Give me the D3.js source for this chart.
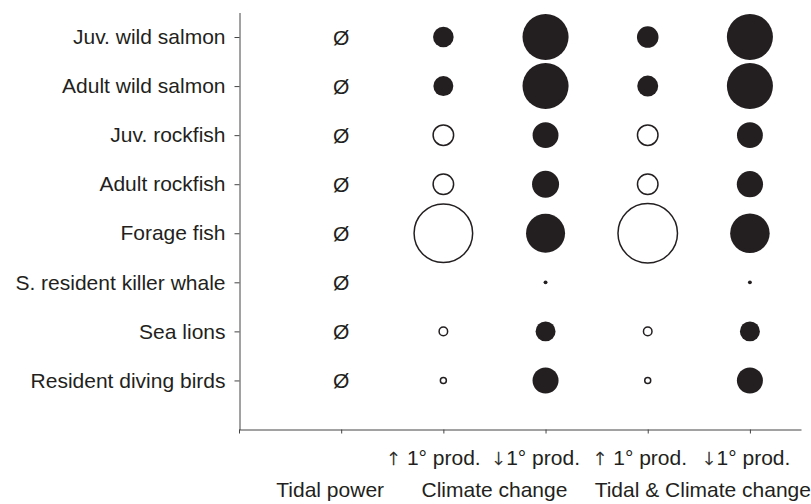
<!DOCTYPE html>
<html>
<head>
<meta charset="utf-8">
<script src="https://cdn.jsdelivr.net/npm/d3@7"></script>
<style>
  body { margin: 0; background: #fff; }
  svg { font-family: "Liberation Sans", Arial, sans-serif; }
</style>
</head>
<body>
<div id="chart"></div>
<script>
// rows, top to bottom
const species = [
  'Juv. wild salmon',
  'Adult wild salmon',
  'Juv. rockfish',
  'Adult rockfish',
  'Forage fish',
  'S. resident killer whale',
  'Sea lions',
  'Resident diving birds'
]

// % change in biomass; negative = decrease (filled), positive = increase (open)
// tidal power alone: no change for any group (Ø)
const tidalPower = [null, null, null, null, null, null, null, null]
const climateUp = [-11.4, -10.7, 13, 13, 97, 0, 2.7, 1.5]
const climateDown = [-57, -57, -18, -19.6, -41, -0.4, -10.7, -18.2]
const tidalClimateUp = [-12.5, -11.8, 13, 13, 100, 0, 2.7, 1.5]
const tidalClimateDown = [-57, -57, -18, -18.5, -42, -0.4, -10.7, -18.2]

const series = [tidalPower, climateUp, climateDown, tidalClimateUp, tidalClimateDown]
// arrow + text under each scenario column
const subArrows = ['', '\u2191 ', '\u2193', '\u2191 ', '\u2193']
const subLabels = ['', '1\u00b0 prod.', '1\u00b0 prod.', '1\u00b0 prod.', '1\u00b0 prod.']
const groupLabels = ['Tidal power', 'Climate change', 'Tidal & Climate change']

const width = 811, height = 504
const ink = '#231f20'

const svg = d3.select('#chart').append('svg')
  .attr('width', width)
  .attr('height', height)

const x = d3.scaleLinear()
  .domain([0, 5.5])
  .range([239, 801])

const y = d3.scaleLinear()
  .domain([-0.5, 8])
  .range([12.5, 429.5])

const r = d3.scaleSqrt()
  .domain([0, 100])
  .range([0, 30.5])

// axes
const yAxis = d3.axisLeft(y)
  .tickValues(d3.range(species.length))
  .tickFormat(i => species[i])
  .tickSize(5)
  .tickSizeOuter(0)
  .tickPadding(9)

const xAxis = d3.axisBottom(x)
  .tickValues(d3.range(6))
  .tickFormat('')
  .tickSize(4)
  .tickSizeOuter(0)

const y_axis_g = svg.append('g')
  .attr('transform', 'translate(239.5,0)')
  .call(yAxis)

y_axis_g.selectAll('text')
  .attr('font-size', 21)
  .attr('font-family', '"Liberation Sans", Arial, sans-serif')
  .attr('fill', ink)

svg.append('g')
  .attr('transform', 'translate(0,429.5)')
  .call(xAxis)

svg.selectAll('.domain, .tick line')
  .attr('stroke', '#444')

// flatten cells
const cells = []
series.forEach((vals, col) => {
  vals.forEach((v, row) => cells.push({ col: col + 1, row, v }))
})

// Ø for no change
svg.selectAll('.nochange')
  .data(cells.filter(d => d.v === null))
  .join('text')
  .attr('class', 'nochange')
  .attr('x', d => x(d.col))
  .attr('y', d => y(d.row))
  .attr('dy', '0.36em')
  .attr('text-anchor', 'middle')
  .attr('font-size', 21)
  .attr('fill', ink)
  .text('\u00d8')

// bubbles
svg.selectAll('.bubble')
  .data(cells.filter(d => d.v !== null && d.v !== 0))
  .join('circle')
  .attr('class', 'bubble')
  .attr('cx', d => x(d.col))
  .attr('cy', d => y(d.row))
  .attr('r', d => d.v > 0 ? r(d.v) - 0.75 : r(-d.v))
  .attr('fill', d => d.v < 0 ? ink : '#fff')
  .attr('stroke', d => d.v < 0 ? 'none' : ink)
  .attr('stroke-width', 1.5)

// bottom category labels
const subOffset = [0, -10, -10, -8, -4]
const sub = svg.selectAll('.sub')
  .data(subLabels.map((t, i) => ({ t, a: subArrows[i], i })).filter(d => d.t))
  .join('text')
  .attr('class', 'sub')
  .attr('x', d => x(d.i + 1) + subOffset[d.i])
  .attr('y', 465)
  .attr('text-anchor', 'middle')
  .attr('font-size', 21)
  .attr('fill', ink)

// thin arrows get colour fringes from subpixel AA; a hairline stroke keeps them black
sub.append('tspan')
  .attr('font-family', '"DejaVu Sans", sans-serif')
  .attr('font-size', 18)
  .attr('font-weight', 200)
  .attr('stroke', ink)
  .attr('stroke-width', 0.4)
  .text(d => d.a)

sub.append('tspan')
  .text(d => d.t)

const groupX = [x(1) - 11, (x(2) + x(3)) / 2, (x(4) + x(5)) / 2 + 4]
svg.selectAll('.group')
  .data(groupLabels)
  .join('text')
  .attr('class', 'group')
  .attr('x', (d, i) => groupX[i])
  .attr('y', 497)
  .attr('text-anchor', 'middle')
  .attr('font-size', 21)
  .attr('fill', ink)
  .text(d => d)
</script>
</body>
</html>
